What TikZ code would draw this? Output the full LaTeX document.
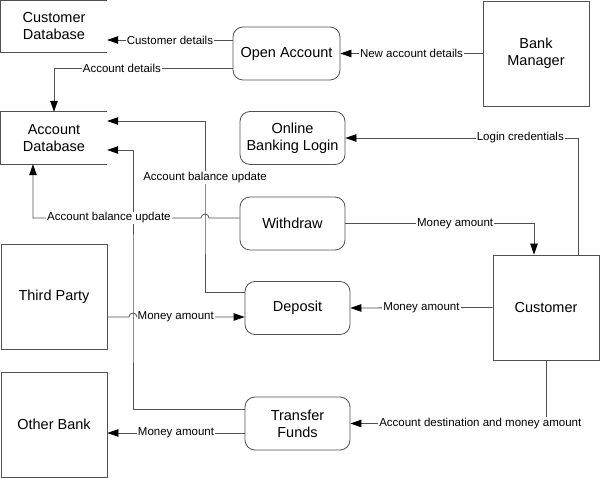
\documentclass[tikz,border=0pt]{standalone}
\usepackage{fontspec}
\setmainfont{Liberation Sans}
\usetikzlibrary{arrows.meta}
\definecolor{linegray}{RGB}{80,80,80}
\def\jump{4pt}
\tikzset{
  ext/.style={draw=linegray, line width=0.8pt, minimum width=106pt, minimum height=105pt,
    inner sep=0pt, align=center, font=\fontsize{14.5}{17}\selectfont},
  proc/.style={draw=linegray, line width=0.8pt, rounded corners=10pt, minimum width=105pt,
    minimum height=53pt, inner sep=0pt, align=center, font=\fontsize{14.5}{17}\selectfont},
  store/.style={minimum width=106pt, minimum height=52pt, inner sep=0pt, align=center,
    font=\fontsize{14.5}{17}\selectfont},
  flow/.style={draw=linegray, line width=0.8pt, -{Triangle[length=11pt,width=7.5pt,color=black]}},
  lbl/.style={fill=white, inner sep=1pt, text=black, font=\fontsize{11.5}{13}\selectfont}
}

\begin{document}
\begin{tikzpicture}[x=1pt, y=-1pt]
  \useasboundingbox (0,0) rectangle (600,478);
  % Entities
  \node[ext] (mgr) at (536,53.5) {Bank\\Manager};
  \node[ext] (third) at (54,297) {Third Party};
  \node[ext] (cust) at (546,307.5) {Customer};
  \node[ext] (other) at (54,424.5) {Other Bank};
  % Processes
  \node[proc, minimum width=107pt] (open) at (286.5,53.5) {Open Account};
  \node[proc] (login) at (292.5,138) {Online\\Banking Login};
  \node[proc] (withdraw) at (292.5,223.5) {Withdraw};
  \node[proc] (deposit) at (297.5,308) {Deposit};
  \node[proc] (transfer) at (297.5,423.5) {Transfer\\Funds};
  % Stores
  \node[store] (custdb) at (54,26.5) {Customer\\Database};
  \node[store] (acctdb) at (54,138) {Account\\Database};
  \foreach \s in {custdb,acctdb}
    \draw[linegray, line width=0.8pt] (\s.north east) -| (\s.south west) -- (\s.south east);

  % Crossings
  \coordinate (jmpA) at (205,218);
  \coordinate (jmpB) at (133,317);

  % Flows
  \draw[flow] (deposit.west |- 0,292) -| (jmpA) |- node[lbl, pos=0.21] {Account balance update} (acctdb.east |- 0,121);
  \draw[flow] (transfer.west |- 0,409) -| (jmpB) |- (acctdb.east |- 0,150);
  \draw[flow] (open.west |- 0,40) -- node[lbl] {Customer details} (custdb.east |- 0,40);
  \draw[flow] (mgr.west) -- node[lbl] {New account details} (open.east);
  \draw[flow] (open.west |- 0,68) -| node[lbl, pos=0.31] {Account details} (acctdb.north);
  \draw[flow] (cust.north -| 578,0) |- node[lbl, pos=0.624] {Login credentials} (login.east);
  \draw[flow] (withdraw.east) -| node[lbl, pos=0.291] {Money amount} (cust.north -| 534,0);
  \draw[flow] (withdraw.west |- jmpA) -- ([xshift=\jump]jmpA)
    arc[start angle=0, end angle=180, radius=\jump]
    -| node[lbl, pos=0.274] {Account balance update} ([xshift=-21pt]acctdb.south);
  \draw[flow] (third.east |- jmpB) -- ([xshift=-\jump]jmpB)
    arc[start angle=180, end angle=0, radius=\jump]
    -- node[lbl, pos=0.36] {Money amount} (deposit.west |- jmpB);
  \draw[flow] (cust.west) -- node[lbl] {Money amount} (deposit.east);
  \draw[flow] (transfer.west |- 0,433) -- node[lbl] {Money amount} (other.east |- 0,433);
  \draw[flow] (cust.south) |- node[lbl, pos=0.668] {Account destination and money amount} (transfer.east);
\end{tikzpicture}
\end{document}
